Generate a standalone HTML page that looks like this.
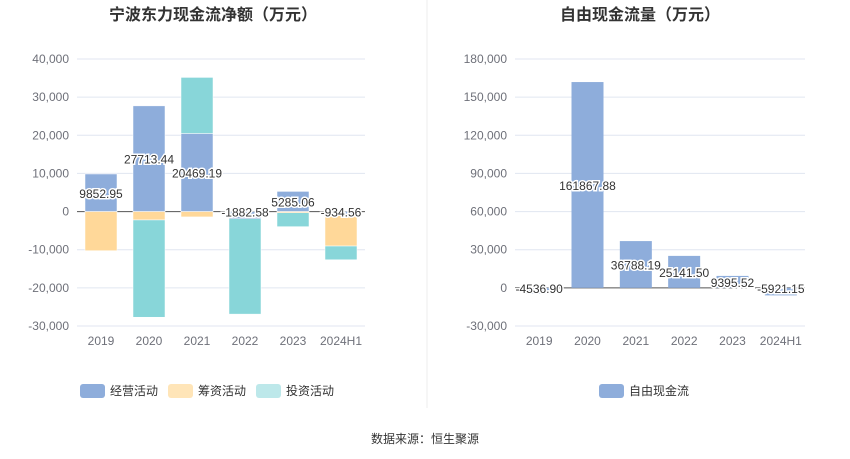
<!DOCTYPE html>
<html><head><meta charset="utf-8"><style>
body{margin:0;background:#fff;font-family:"Liberation Sans","Noto Sans CJK SC",sans-serif;}
#wrap{position:relative;width:850px;height:459px;overflow:hidden}
svg text{font-family:"Liberation Sans","Noto Sans CJK SC",sans-serif}
</style></head><body><div id="wrap">
<svg id="s" width="850" height="459"></svg>
</div>
<script>
const categories=["2019","2020","2021","2022","2023","2024H1"];
const operating=[9852.95,27713.44,20469.19,-1882.58,5285.06,-934.56];
const financing=[-10250,-2200,-1400,0,-300,-8100];
const investing=[0,-25500,14700,-25000,-3650,-3600];
const leftTicks=[40000,30000,20000,10000,0,-10000,-20000,-30000];
const freeCash=[-4536.90,161867.88,36788.19,25141.50,9395.52,-5921.15];
const rightTicks=[180000,150000,120000,90000,60000,30000,0,-30000];
const NS="http://www.w3.org/2000/svg";
const svg=document.getElementById('s');
function el(t,a,txt){const e=document.createElementNS(NS,t);for(const k in a)e.setAttribute(k,a[k]);if(txt!==undefined)e.textContent=txt;svg.appendChild(e);return e;}
function fmt(v){return v.toLocaleString('en-US');}
function axes(x0,x1,yTop,yBot,tmax,tmin,ticks,name){
  const y=v=>yTop+(tmax-v)/(tmax-tmin)*(yBot-yTop);
  ticks.forEach(t=>{
    const g=el('line',{x1:x0,x2:x1,y1:y(t),y2:y(t),stroke:t===0?'#555':'#e0e6f1','stroke-width':1});
    
    const l=el('text',{x:x0-8,y:y(t)+4,'text-anchor':'end','font-size':12,fill:'#6e7079'},fmt(t));
    
  });
  const band=(x1-x0)/categories.length;
  categories.forEach((c,i)=>{
    const l=el('text',{x:x0+band*(i+.5),y:yBot+19,'text-anchor':'middle','font-size':12,fill:'#6e7079'},c);
    
  });
  return {y,band};
}
// left
const L=axes(77,365,59,326,40000,-30000,leftTicks,'left');
const series=[[operating,'#8eaddb','operating'],[financing,'#ffd899','financing'],[investing,'#88d6d9','investing']];
const pos=categories.map(()=>0),neg=categories.map(()=>0);
series.forEach(([arr,col,nm])=>{
  arr.forEach((v,i)=>{
    if(!v)return;
    let a,b;
    if(v>=0){a=pos[i];b=pos[i]+v;pos[i]=b;}else{a=neg[i];b=neg[i]+v;neg[i]=b;}
    const cx=77+L.band*(i+.5);
    const r=el('rect',{x:cx-16,width:32,y:Math.min(L.y(a),L.y(b)),height:Math.abs(L.y(a)-L.y(b)),fill:col,stroke:'#fff','stroke-width':0.5});
    
  });
});
operating.forEach((v,i)=>{
  const cx=77+L.band*(i+.5);
  const yy=v>=0?L.y(v/2)+5:L.y(0)+5;
  const t=el('text',{x:cx,y:yy,'text-anchor':'middle','font-size':12,fill:'#333',stroke:'#fff','stroke-width':3,'paint-order':'stroke'},v.toFixed(2));
  
});
// right
const R=axes(515,805,59,326,180000,-30000,rightTicks,'right');
freeCash.forEach((v,i)=>{
  const cx=515+R.band*(i+.5);
  const r=el('rect',{x:cx-16,width:32,y:Math.min(R.y(0),R.y(v)),height:Math.abs(R.y(0)-R.y(v)),fill:'#8eaddb'});
  
  const yy=v>=0?R.y(v/2)+5:R.y(0)+5;
  const t=el('text',{x:cx,y:yy,'text-anchor':'middle','font-size':12,fill:'#333',stroke:'#fff','stroke-width':3,'paint-order':'stroke'},v.toFixed(2));
  
});
</script>
<svg width="850" height="459" style="position:absolute;left:0;top:0;pointer-events:none">
<text x="213" y="20" text-anchor="middle" font-size="16" font-weight="bold" fill="#333">宁波东力现金流净额（万元）</text>
<text x="640" y="20" text-anchor="middle" font-size="16" font-weight="bold" fill="#333">自由现金流量（万元）</text>
<line x1="427" y1="0" x2="427" y2="408" stroke="#eee"/>
<g><rect x="80" y="384" width="25" height="14" rx="3" fill="#8eaddb"/><text x="110" y="395" font-size="12" fill="#333">经营活动</text></g>
<g><rect x="168" y="384" width="25" height="14" rx="3" fill="#ffe5b8"/><text x="198" y="395" font-size="12" fill="#333">筹资活动</text></g>
<g><rect x="256" y="384" width="25" height="14" rx="3" fill="#bde8ea"/><text x="286" y="395" font-size="12" fill="#333">投资活动</text></g>
<g><rect x="599" y="384" width="25" height="14" rx="3" fill="#8eaddb"/><text x="629" y="395" font-size="12" fill="#333">自由现金流</text></g>
<text x="425" y="443" text-anchor="middle" font-size="12" fill="#333">数据来源：恒生聚源</text>
</svg>
</body></html>
